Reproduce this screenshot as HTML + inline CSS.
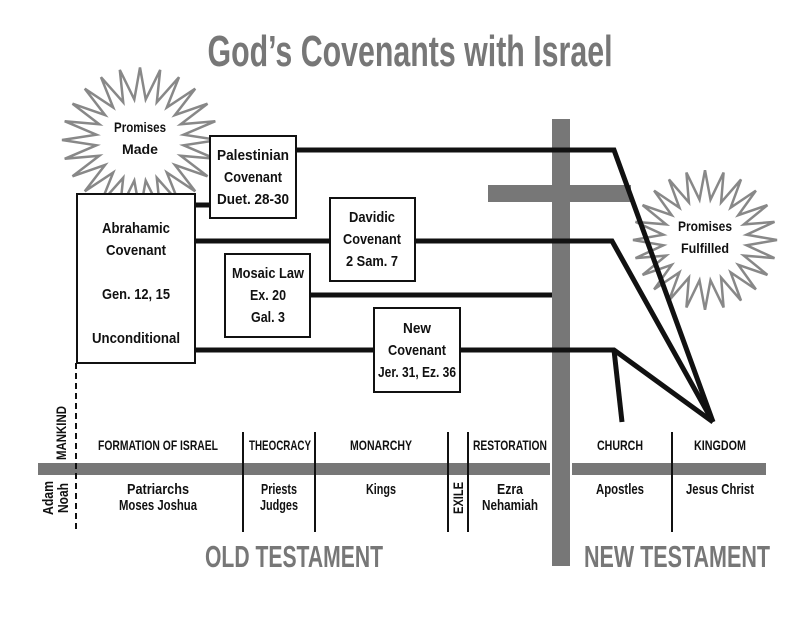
<!DOCTYPE html>
<html><head><meta charset="utf-8"><style>
html,body{margin:0;padding:0;background:#fff}
svg text{font-family:"Liberation Sans",sans-serif;font-weight:bold}
</style></head><body>
<svg id="s" width="800" height="618" viewBox="0 0 800 618" xmlns="http://www.w3.org/2000/svg">
<rect width="800" height="618" fill="#fff"/>
<text x="410" y="66" font-size="44" fill="#777" text-anchor="middle" textLength="405" lengthAdjust="spacingAndGlyphs">God’s Covenants with Israel</text>
<polygon id="st1" fill="#fff" stroke="#888" stroke-width="2.5"/>
<polygon id="st2" fill="#fff" stroke="#888" stroke-width="2.5"/>
<rect x="552" y="119" width="18" height="447" fill="#777"/>
<rect x="488" y="185" width="143" height="17" fill="#777"/>
<g stroke="#111" stroke-width="5" fill="none" stroke-linejoin="miter">
<polyline points="296,150 614,150 713,422"/>
<polyline points="195,241 612,241 713,422"/>
<line x1="310" y1="295" x2="552" y2="295"/>
<polyline points="195,350 614,350 713,422"/>
<line x1="614" y1="350" x2="622" y2="422"/>
<line x1="195" y1="205" x2="210" y2="205"/>
</g>
<g fill="#fff" stroke="#111" stroke-width="2">
<rect x="210" y="136" width="86" height="82"/>
<rect x="77" y="194" width="118" height="169"/>
<rect x="330" y="198" width="85" height="83"/>
<rect x="225" y="254" width="85" height="83"/>
<rect x="374" y="308" width="86" height="84"/>
</g>
<g font-size="15" fill="#111" text-anchor="middle">
<text x="140" y="132" font-size="14" textLength="52" lengthAdjust="spacingAndGlyphs">Promises</text><text x="140" y="154" font-size="14" textLength="36" lengthAdjust="spacingAndGlyphs">Made</text>
<text x="705" y="231" font-size="14" textLength="54" lengthAdjust="spacingAndGlyphs">Promises</text><text x="705" y="253" font-size="14" textLength="48" lengthAdjust="spacingAndGlyphs">Fulfilled</text>
<text x="253" y="160" textLength="72" lengthAdjust="spacingAndGlyphs">Palestinian</text>
<text x="253" y="182" textLength="58" lengthAdjust="spacingAndGlyphs">Covenant</text>
<text x="253" y="204" textLength="72" lengthAdjust="spacingAndGlyphs">Duet. 28-30</text>
<text x="136" y="233" textLength="68" lengthAdjust="spacingAndGlyphs">Abrahamic</text>
<text x="136" y="255" textLength="60" lengthAdjust="spacingAndGlyphs">Covenant</text>
<text x="136" y="299" textLength="68" lengthAdjust="spacingAndGlyphs">Gen. 12, 15</text>
<text x="136" y="343" textLength="88" lengthAdjust="spacingAndGlyphs">Unconditional</text>
<text x="372" y="222" textLength="46" lengthAdjust="spacingAndGlyphs">Davidic</text>
<text x="372" y="244" textLength="58" lengthAdjust="spacingAndGlyphs">Covenant</text>
<text x="372" y="266" textLength="52" lengthAdjust="spacingAndGlyphs">2 Sam. 7</text>
<text x="268" y="278" textLength="72" lengthAdjust="spacingAndGlyphs">Mosaic Law</text>
<text x="268" y="300" textLength="36" lengthAdjust="spacingAndGlyphs">Ex. 20</text>
<text x="268" y="322" textLength="34" lengthAdjust="spacingAndGlyphs">Gal. 3</text>
<text x="417" y="333" textLength="28" lengthAdjust="spacingAndGlyphs">New</text>
<text x="417" y="355" textLength="58" lengthAdjust="spacingAndGlyphs">Covenant</text>
<text x="417" y="377" textLength="78" lengthAdjust="spacingAndGlyphs">Jer. 31, Ez. 36</text>
</g>
<rect x="38" y="463" width="512" height="12" fill="#777"/>
<rect x="572" y="463" width="194" height="12" fill="#777"/>
<line x1="76" y1="363" x2="76" y2="532" stroke="#111" stroke-width="2" stroke-dasharray="6,4"/>
<g stroke="#111" stroke-width="2">
<line x1="243" y1="432" x2="243" y2="532"/><line x1="315" y1="432" x2="315" y2="532"/>
<line x1="448" y1="432" x2="448" y2="532"/><line x1="468" y1="432" x2="468" y2="532"/>
<line x1="672" y1="432" x2="672" y2="532"/>
</g>
<g font-size="14" fill="#111" text-anchor="middle">
<text x="158" y="450" textLength="120" lengthAdjust="spacingAndGlyphs">FORMATION OF ISRAEL</text>
<text x="280" y="450" textLength="62" lengthAdjust="spacingAndGlyphs">THEOCRACY</text>
<text x="381" y="450" textLength="62" lengthAdjust="spacingAndGlyphs">MONARCHY</text>
<text x="510" y="450" textLength="74" lengthAdjust="spacingAndGlyphs">RESTORATION</text>
<text x="620" y="450" textLength="46" lengthAdjust="spacingAndGlyphs">CHURCH</text>
<text x="720" y="450" textLength="52" lengthAdjust="spacingAndGlyphs">KINGDOM</text>
<text x="66" y="433" transform="rotate(-90 66 433)" textLength="54" lengthAdjust="spacingAndGlyphs" text-anchor="middle">MANKIND</text>
<text x="463" y="498" transform="rotate(-90 463 498)" textLength="32" lengthAdjust="spacingAndGlyphs" text-anchor="middle">EXILE</text>
</g>
<g font-size="15" fill="#111" text-anchor="middle">
<text x="158" y="494" textLength="62" lengthAdjust="spacingAndGlyphs">Patriarchs</text><text x="158" y="510" textLength="78" lengthAdjust="spacingAndGlyphs">Moses  Joshua</text>
<text x="279" y="494" textLength="36" lengthAdjust="spacingAndGlyphs">Priests</text><text x="279" y="510" textLength="38" lengthAdjust="spacingAndGlyphs">Judges</text>
<text x="381" y="494" textLength="30" lengthAdjust="spacingAndGlyphs">Kings</text>
<text x="510" y="494" textLength="26" lengthAdjust="spacingAndGlyphs">Ezra</text><text x="510" y="510" textLength="56" lengthAdjust="spacingAndGlyphs">Nehamiah</text>
<text x="620" y="494" textLength="48" lengthAdjust="spacingAndGlyphs">Apostles</text>
<text x="720" y="494" textLength="68" lengthAdjust="spacingAndGlyphs">Jesus Christ</text>
<text x="53" y="498" transform="rotate(-90 53 498)" textLength="34" lengthAdjust="spacingAndGlyphs">Adam</text>
<text x="68" y="498" transform="rotate(-90 68 498)" textLength="30" lengthAdjust="spacingAndGlyphs">Noah</text>
</g>
<text x="294" y="567" font-size="31" fill="#777" text-anchor="middle" textLength="178" lengthAdjust="spacingAndGlyphs">OLD TESTAMENT</text>
<text x="677" y="567" font-size="31" fill="#777" text-anchor="middle" textLength="186" lengthAdjust="spacingAndGlyphs">NEW TESTAMENT</text>
</svg>
<script>
function star(id,cx,cy,ro,ri,n,ry){var p=[];for(var i=0;i<2*n;i++){var a=Math.PI*i/n-Math.PI/2;var r=i%2?ri:ro;p.push((cx+r*Math.cos(a)).toFixed(1)+","+(cy+r*ry*Math.sin(a)).toFixed(1));}document.getElementById(id).setAttribute("points",p.join(" "));}
star("st1",140,140,78,44,24,0.93);
star("st2",705,240,72,42,24,0.97);
</script>
</body></html>
